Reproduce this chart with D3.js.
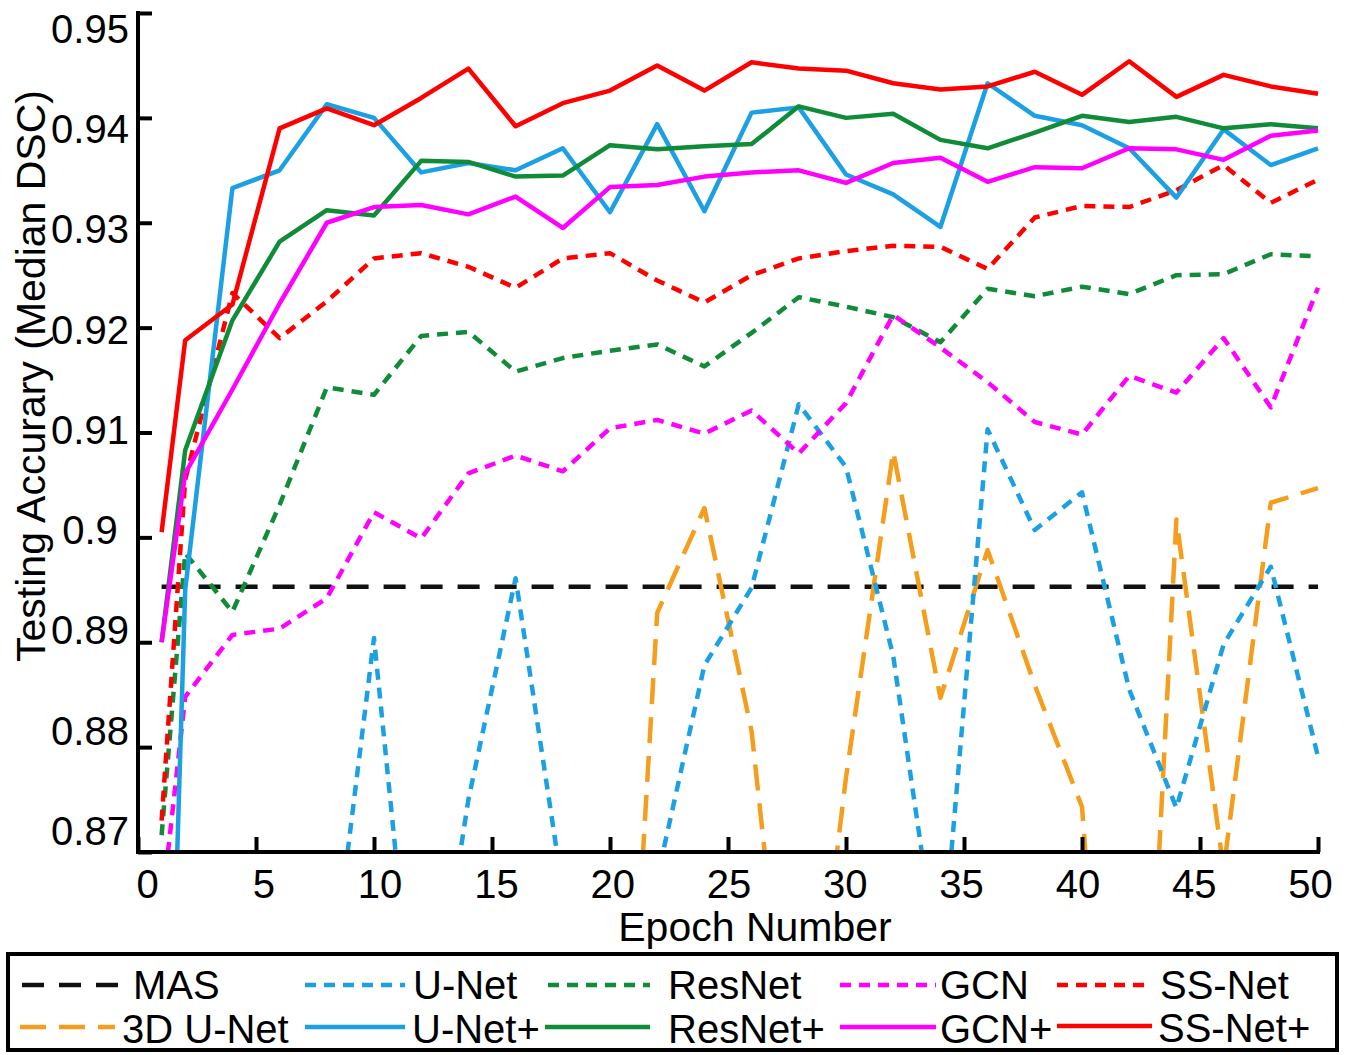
<!DOCTYPE html>
<html>
<head>
<meta charset="utf-8">
<script src="https://cdn.jsdelivr.net/npm/d3@7"></script>
<style>
  html, body { margin: 0; padding: 0; background: #fff; }
  svg { display: block; font-family: "Liberation Sans", Arial, sans-serif; }
</style>
</head>
<body>
<svg id="chart" width="1355" height="1055"></svg>
<script>
// ---------------- data ----------------
const epochs = [1, 2, 4, 6, 8, 10, 12, 14, 16, 18, 20, 22, 24, 26, 28, 30, 32, 34, 36, 38, 40, 42, 44, 46, 48, 50];

const masEpochs = [1, 50];
const masValues = [0.8953, 0.8953];

const unet3dValues = [0.760, 0.770, 0.780, 0.790, 0.785, 0.795, 0.800, 0.790, 0.805, 0.800, 0.8166, 0.8928, 0.9028, 0.8815, 0.8400, 0.8771, 0.9082, 0.8847, 0.8988, 0.8859, 0.8743, 0.8150, 0.9017, 0.8683, 0.9033, 0.9047];
const unetValues = [0.800, 0.810, 0.825, 0.835, 0.8539, 0.8904, 0.8458, 0.8750, 0.8961, 0.8663, 0.8620, 0.8675, 0.8878, 0.8952, 0.9127, 0.9067, 0.8887, 0.8578, 0.9103, 0.9007, 0.9043, 0.8855, 0.8742, 0.8898, 0.8972, 0.8791];
const resnetValues = [0.8716, 0.8985, 0.8929, 0.9031, 0.9143, 0.9136, 0.9192, 0.9196, 0.9158, 0.9171, 0.9178, 0.9184, 0.9163, 0.9195, 0.9229, 0.9220, 0.9210, 0.9186, 0.9237, 0.9230, 0.9239, 0.9232, 0.9250, 0.9251, 0.9270, 0.9268];
const gcnValues = [0.8645, 0.8848, 0.8907, 0.8913, 0.8942, 0.9024, 0.8999, 0.9061, 0.9078, 0.9063, 0.9104, 0.9112, 0.9099, 0.9121, 0.9080, 0.9128, 0.9212, 0.9181, 0.9148, 0.9110, 0.9098, 0.9154, 0.9138, 0.9190, 0.9124, 0.9238];
const ssnetValues = [0.8730, 0.9055, 0.9233, 0.9190, 0.9225, 0.9266, 0.9271, 0.9258, 0.9238, 0.9266, 0.9271, 0.9245, 0.9224, 0.9250, 0.9266, 0.9273, 0.9278, 0.9277, 0.9256, 0.9305, 0.9316, 0.9315, 0.9331, 0.9355, 0.9319, 0.9341];
const unetPlusValues = [0.8207, 0.8950, 0.9333, 0.9350, 0.9413, 0.9400, 0.9348, 0.9357, 0.9350, 0.9371, 0.9310, 0.9394, 0.9311, 0.9405, 0.9410, 0.9346, 0.9327, 0.9296, 0.9433, 0.9402, 0.9393, 0.9371, 0.9324, 0.9389, 0.9355, 0.9371];
const resnetPlusValues = [0.8900, 0.9083, 0.9207, 0.9282, 0.9312, 0.9307, 0.9359, 0.9358, 0.9344, 0.9345, 0.9374, 0.9370, 0.9373, 0.9375, 0.9411, 0.9400, 0.9404, 0.9379, 0.9371, 0.9386, 0.9402, 0.9396, 0.9401, 0.9390, 0.9394, 0.9390];
const gcnPlusValues = [0.8900, 0.9061, 0.9141, 0.9223, 0.9300, 0.9315, 0.9317, 0.9308, 0.9325, 0.9295, 0.9334, 0.9336, 0.9344, 0.9348, 0.9350, 0.9338, 0.9357, 0.9362, 0.9339, 0.9353, 0.9352, 0.9371, 0.9370, 0.9360, 0.9383, 0.9388];
const ssnetPlusValues = [0.9005, 0.9188, 0.9222, 0.9390, 0.9409, 0.9393, 0.9419, 0.9447, 0.9392, 0.9414, 0.9426, 0.9450, 0.9426, 0.9453, 0.9447, 0.9445, 0.9433, 0.9427, 0.9430, 0.9444, 0.9422, 0.9454, 0.9420, 0.9441, 0.9430, 0.9423];

const xTicks = [0, 5, 10, 15, 20, 25, 30, 35, 40, 45, 50];
const yTicks = [0.87, 0.88, 0.89, 0.90, 0.91, 0.92, 0.93, 0.94, 0.95];
const yTickLabels = ["0.87", "0.88", "0.89", "0.9", "0.91", "0.92", "0.93", "0.94", "0.95"];

const seriesNames = ["MAS", "3D U-Net", "U-Net", "U-Net+", "ResNet", "ResNet+", "GCN", "GCN+", "SS-Net", "SS-Net+"];

// ---------------- styles ----------------
const RED = "#ff0000", BLUE = "#1ca0e4", GREEN = "#108c38", MAG = "#ff00ff", ORANGE = "#f59d1c", BLACK = "#111111";
const DOT = "11,8", DASH = "26,13", MASDASH = "22,15";

const series = [
  { name: "MAS",      xs: masEpochs, ys: masValues,        color: BLACK,  dash: MASDASH },
  { name: "3D U-Net", xs: epochs,    ys: unet3dValues,     color: ORANGE, dash: DASH },
  { name: "U-Net",    xs: epochs,    ys: unetValues,       color: BLUE,   dash: DOT },
  { name: "ResNet",   xs: epochs,    ys: resnetValues,     color: GREEN,  dash: DOT },
  { name: "GCN",      xs: epochs,    ys: gcnValues,        color: MAG,    dash: DOT },
  { name: "SS-Net",   xs: epochs,    ys: ssnetValues,      color: RED,    dash: DOT },
  { name: "U-Net+",   xs: epochs,    ys: unetPlusValues,   color: BLUE,   dash: null },
  { name: "ResNet+",  xs: epochs,    ys: resnetPlusValues, color: GREEN,  dash: null },
  { name: "GCN+",     xs: epochs,    ys: gcnPlusValues,    color: MAG,    dash: null },
  { name: "SS-Net+",  xs: epochs,    ys: ssnetPlusValues,  color: RED,    dash: null }
];
const styleOf = Object.fromEntries(series.map(s => [s.name, s]));

// ---------------- scales ----------------
const svg = d3.select("#chart");
svg.append("rect").attr("width", 1355).attr("height", 1055).attr("fill", "#fff");

const x = d3.scaleLinear().domain([0, 50]).range([138, 1318]);
const y = d3.scaleLinear().domain([0.87, 0.95]).range([852, 13]);
// label placement scales (labels in the figure are spaced slightly tighter than ticks)
const xLab = d3.scaleLinear().domain([0, 50]).range([147, 1310]);
const yLab = d3.scaleLinear().domain([0.87, 0.95]).range([830, 28]);

// ---------------- lines ----------------
svg.append("clipPath").attr("id", "plotclip")
  .append("rect").attr("x", 136).attr("y", 0).attr("width", 1190).attr("height", 852);

const plot = svg.append("g").attr("clip-path", "url(#plotclip)");
const line = d3.line().x(d => x(d[0])).y(d => y(d[1]));

series.forEach(s => {
  const pts = s.xs.map((e, i) => [e, s.ys[i]]);
  plot.append("path")
    .datum(pts)
    .attr("d", line)
    .attr("fill", "none")
    .attr("stroke", s.color)
    .attr("stroke-width", 4.5)
    .attr("stroke-linejoin", "round")
    .attr("stroke-dasharray", s.dash);
});

// ---------------- axes ----------------
const fontTick = 40;
const xAxis = d3.axisBottom(x).tickValues(xTicks).tickSizeInner(-15).tickSizeOuter(0).tickFormat(d3.format("d"));
const gx = svg.append("g").attr("transform", "translate(0,852)").call(xAxis);
gx.select(".domain").attr("stroke", "#000").attr("stroke-width", 4).attr("d", `M${x(0) - 2},0H${x(50) + 2}`);
gx.selectAll(".tick line").attr("stroke", "#000").attr("stroke-width", 4);
gx.selectAll(".tick text")
  .attr("x", d => xLab(d) - x(d))
  .attr("y", 46).attr("dy", 0)
  .attr("fill", "#000")
  .attr("font-size", fontTick)
  .attr("font-family", "Liberation Sans, Arial, sans-serif");

const yAxis = d3.axisLeft(y).tickValues(yTicks).tickSizeInner(-14).tickSizeOuter(0)
  .tickFormat((d, i) => yTickLabels[i]);
const gy = svg.append("g").attr("transform", `translate(${x(0)},0)`).call(yAxis);
gy.select(".domain").attr("stroke", "#000").attr("stroke-width", 4).attr("d", `M0,${y(0.95) - 2}V${y(0.87) + 2}`);
gy.selectAll(".tick line").attr("stroke", "#000").attr("stroke-width", 4);
gy.selectAll(".tick text")
  .attr("x", -48)
  .attr("y", d => yLab(d) - y(d))
  .attr("dy", "0.36em")
  .attr("text-anchor", "middle")
  .attr("fill", "#000")
  .attr("font-size", fontTick)
  .attr("font-family", "Liberation Sans, Arial, sans-serif");

// axis titles
svg.append("text")
  .attr("x", 755).attr("y", 941)
  .attr("text-anchor", "middle")
  .attr("font-size", 41)
  .attr("fill", "#000")
  .text("Epoch Number");

svg.append("text")
  .attr("transform", "translate(45,376) rotate(-90)")
  .attr("text-anchor", "middle")
  .attr("font-size", 41)
  .attr("fill", "#000")
  .text("Testing Accurary (Median DSC)");

// ---------------- legend ----------------
svg.append("rect")
  .attr("x", 8).attr("y", 954).attr("width", 1329).attr("height", 96)
  .attr("fill", "none").attr("stroke", "#000").attr("stroke-width", 4);

const legendLayout = [
  { name: "MAS",      x0: 22,   x1: 125,  tx: 133,  ly: 985,  ty: 999 },
  { name: "U-Net",    x0: 305,  x1: 405,  tx: 413,  ly: 985,  ty: 999 },
  { name: "ResNet",   x0: 548,  x1: 650,  tx: 668,  ly: 985,  ty: 999 },
  { name: "GCN",      x0: 840,  x1: 936,  tx: 940,  ly: 985,  ty: 999 },
  { name: "SS-Net",   x0: 1057, x1: 1152, tx: 1160, ly: 985,  ty: 999 },
  { name: "3D U-Net", x0: 20,   x1: 115,  tx: 122,  ly: 1027, ty: 1043 },
  { name: "U-Net+",   x0: 305,  x1: 405,  tx: 412,  ly: 1027, ty: 1043 },
  { name: "ResNet+",  x0: 545,  x1: 650,  tx: 668,  ly: 1027, ty: 1043 },
  { name: "GCN+",     x0: 840,  x1: 936,  tx: 940,  ly: 1027, ty: 1043 },
  { name: "SS-Net+",  x0: 1057, x1: 1152, tx: 1158, ly: 1026, ty: 1042 }
];

const lg = svg.append("g");
legendLayout.forEach(L => {
  const s = styleOf[L.name];
  lg.append("line")
    .attr("x1", L.x0).attr("x2", L.x1).attr("y1", L.ly).attr("y2", L.ly)
    .attr("stroke", s.color).attr("stroke-width", 4.5)
    .attr("stroke-dasharray", s.dash);
  lg.append("text")
    .attr("x", L.tx).attr("y", L.ty)
    .attr("font-size", 40)
    .attr("fill", "#000")
    .text(L.name);
});
</script>
</body>
</html>
